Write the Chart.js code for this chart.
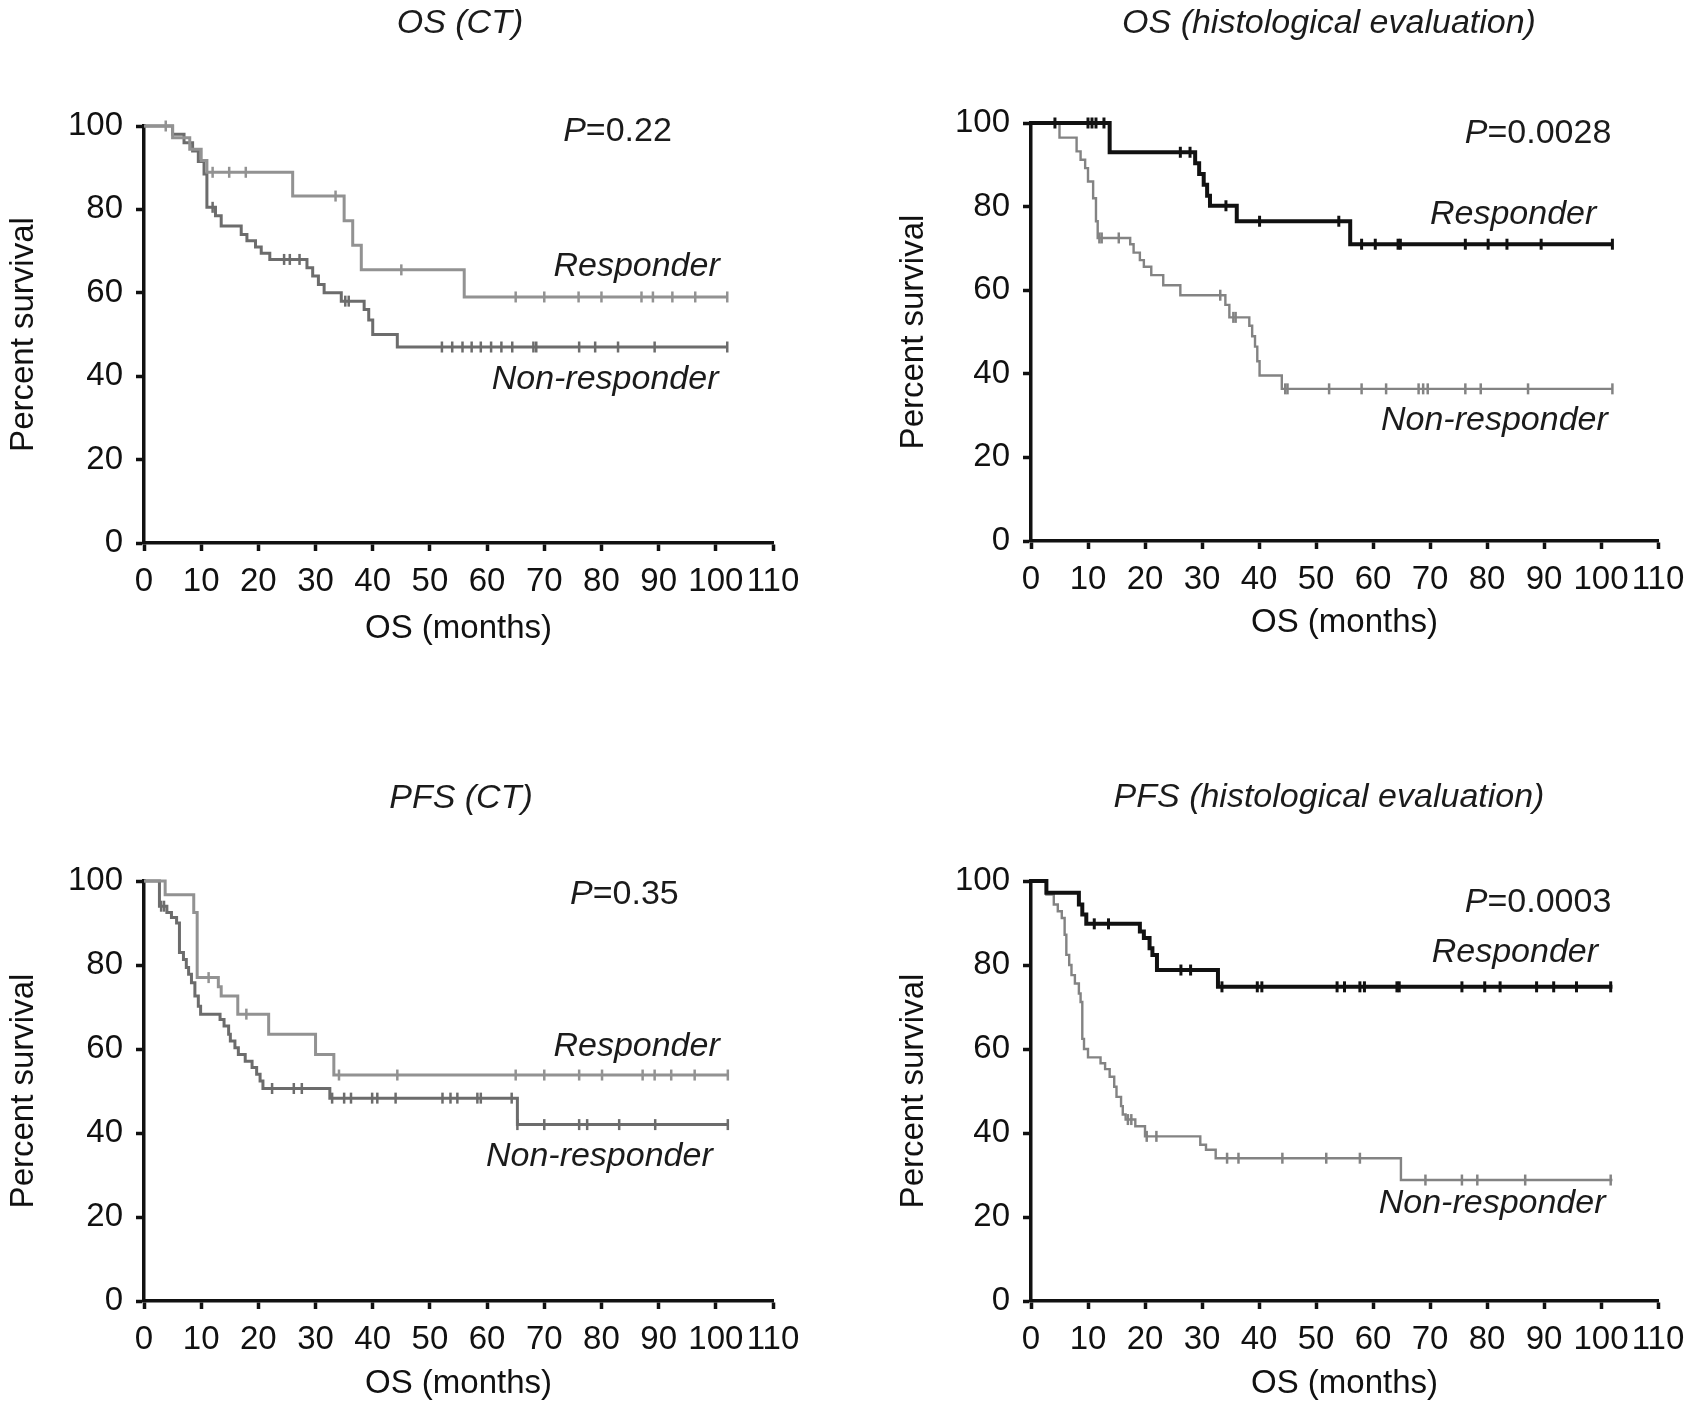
<!DOCTYPE html>
<html>
<head>
<meta charset="utf-8">
<script src="https://cdn.jsdelivr.net/npm/chart.js@4"></script>
<style>
  html, body { margin: 0; padding: 0; background: #fff; }
  body { width: 1696px; height: 1413px; position: relative; overflow: hidden; }
  canvas { position: absolute; }
</style>
</head>
<body>
<canvas id="c1" width="848" height="706" style="left:0;top:0"></canvas>
<canvas id="c2" width="809" height="706" style="left:887px;top:0"></canvas>
<canvas id="c3" width="848" height="707" style="left:0;top:706px"></canvas>
<canvas id="c4" width="809" height="707" style="left:887px;top:706px"></canvas>
<script>
// ---------- shared tick labels ----------
const xTickValues = [0, 10, 20, 30, 40, 50, 60, 70, 80, 90, 100, 110];
const yTickValues = [0, 20, 40, 60, 80, 100];

// ---------- Panel 1: OS (CT) ----------
const osCtRespTimes = [0, 5, 8, 10, 11, 26, 35, 36.5, 38, 56, 102];
const osCtRespSurv  = [100, 97.2, 94.4, 91.7, 88.9, 83.2, 77.3, 71.4, 65.5, 59, 59];
const osCtRespCensT = [3.8, 12, 14.9, 17.8, 33.5, 45, 65, 70, 76, 80, 87, 89, 92.4, 96.4, 102];
const osCtRespCensS = [100, 88.9, 88.9, 88.9, 83.2, 65.5, 59, 59, 59, 59, 59, 59, 59, 59, 59];
const osCtNonTimes = [0, 5, 7, 8.5, 9.5, 10.5, 11, 12.5, 13.5, 17, 18, 19.5, 20.5, 22, 28.5, 29.5, 30.5, 31.5, 34.5, 38.5, 39.3, 40, 44.3, 102];
const osCtNonSurv  = [100, 98, 96, 94, 91.5, 88.5, 80.5, 78.5, 76, 74, 72.5, 71, 69.5, 68, 66, 64, 62, 60, 58, 56, 53.5, 50, 47, 47];
const osCtNonCensT = [12, 24.5, 25.5, 27.2, 35.2, 35.8, 52.1, 53.9, 55.7, 57.3, 58.9, 60.7, 62.5, 64.4, 68.1, 68.6, 76.1, 78.9, 82.9, 89.3, 102];
const osCtNonCensS = [80.5, 68, 68, 68, 58, 58, 47, 47, 47, 47, 47, 47, 47, 47, 47, 47, 47, 47, 47, 47, 47];

// ---------- Panel 2: OS (histological evaluation) ----------
const osHiRespTimes = [0, 13.8, 28.8, 29.5, 30.3, 30.9, 31.4, 36.1, 56, 102];
const osHiRespSurv  = [100, 93, 90.4, 87.8, 85.2, 82.6, 80.2, 76.5, 71, 71];
const osHiRespCensT = [4.2, 10, 10.7, 11.4, 12.8, 26.2, 27.9, 34.2, 40.1, 54, 58, 60.4, 64.4, 64.8, 76.2, 80.2, 83.5, 89.5, 102];
const osHiRespCensS = [100, 100, 100, 100, 100, 93, 93, 80.2, 76.5, 76.5, 71, 71, 71, 71, 71, 71, 71, 71, 71];
const osHiNonTimes = [0, 5, 8, 8.7, 9.5, 10, 10.9, 11.4, 11.7, 17.4, 18, 19.1, 19.8, 21.1, 23.2, 26.2, 34.1, 34.8, 38.3, 38.8, 39.3, 39.7, 40.1, 44, 102];
const osHiNonSurv  = [100, 96.5, 93.2, 91.2, 89.2, 86, 82, 76.5, 72.5, 71, 69, 67.2, 65.6, 63.6, 61.2, 58.8, 56.5, 53.5, 51.5, 49, 46.5, 43, 39.6, 36.4, 36.4];
const osHiNonCensT = [12, 12.4, 15.4, 33.2, 35.5, 35.9, 44.6, 45, 52.3, 58, 62.3, 68, 68.8, 69.6, 76.2, 78.9, 87.2, 102];
const osHiNonCensS = [72.5, 72.5, 72.5, 58.8, 53.5, 53.5, 36.4, 36.4, 36.4, 36.4, 36.4, 36.4, 36.4, 36.4, 36.4, 36.4, 36.4, 36.4];

// ---------- Panel 3: PFS (CT) ----------
const pfsCtRespTimes = [0, 3.7, 8.7, 9.3, 13, 13.5, 16.4, 21.8, 30, 33.2, 102];
const pfsCtRespSurv  = [100, 96.7, 92.5, 77, 74.8, 72.6, 68.3, 63.5, 58.7, 53.8, 53.8];
const pfsCtRespCensT = [11.3, 17.9, 34.1, 44.3, 65, 70, 76.1, 80.1, 87.2, 89.3, 92.2, 96.3, 102.1];
const pfsCtRespCensS = [77, 68.3, 53.8, 53.8, 53.8, 53.8, 53.8, 53.8, 53.8, 53.8, 53.8, 53.8, 53.8];
const pfsCtNonTimes = [0, 2.7, 4, 4.8, 5.7, 6.2, 6.9, 7.4, 7.8, 8.3, 8.9, 9.5, 9.9, 13.3, 14, 14.8, 15.1, 15.9, 16.5, 17.7, 18.9, 19.7, 20.3, 20.8, 32.5, 65.3, 102];
const pfsCtNonSurv  = [100, 94, 92.5, 91.3, 90, 83, 81.3, 79.4, 77.8, 75.8, 72.6, 70.2, 68.3, 67, 65.5, 63.5, 61.9, 60.3, 58.7, 57.1, 55.6, 54, 52.4, 50.6, 48.3, 42, 42];
const pfsCtNonCensT = [3, 3.5, 22.4, 26.2, 27.6, 32.9, 35, 36.2, 39.9, 40.8, 44, 52.2, 53.6, 54.8, 58.3, 58.9, 64.3, 65.3, 70, 76.1, 77.5, 83.1, 89.4, 102.1];
const pfsCtNonCensS = [94, 94, 50.6, 50.6, 50.6, 48.3, 48.3, 48.3, 48.3, 48.3, 48.3, 48.3, 48.3, 48.3, 48.3, 48.3, 48.3, 42, 42, 42, 42, 42, 42, 42];

// ---------- Panel 4: PFS (histological evaluation) ----------
const pfsHiRespTimes = [0, 2.7, 8.4, 9, 9.7, 19.1, 19.8, 20.8, 21.3, 22.1, 32.8, 102];
const pfsHiRespSurv  = [100, 97.2, 94.4, 92, 89.8, 88, 86.4, 84, 82.4, 78.8, 74.8, 74.8];
const pfsHiRespCensT = [11.1, 13.6, 26.3, 28, 33.5, 39.7, 40.5, 53.7, 55, 57.7, 58.5, 64.2, 64.6, 75.6, 79.6, 82.3, 88.7, 91.7, 95.7, 101.7];
const pfsHiRespCensS = [89.8, 89.8, 78.8, 78.8, 74.8, 74.8, 74.8, 74.8, 74.8, 74.8, 74.8, 74.8, 74.8, 74.8, 74.8, 74.8, 74.8, 74.8, 74.8, 74.8];
const pfsHiNonTimes = [0, 2.7, 4, 4.7, 5.4, 5.9, 6.2, 6.7, 7.1, 7.7, 8.4, 8.7, 9, 9.3, 10, 12.2, 13, 13.8, 14.6, 15, 15.8, 16.1, 16.6, 18.3, 20, 29.7, 30.7, 32.4, 64.9, 102];
const pfsHiNonSurv  = [100, 96.8, 94.4, 92.8, 91.2, 87.2, 82.4, 80, 77.6, 75.6, 73.2, 71.2, 62.4, 60, 58, 56.6, 55.2, 53.4, 51, 48.6, 46.4, 44.4, 43.2, 41.6, 39.2, 37.2, 36, 34, 28.8, 28.8];
const pfsHiNonCensT = [17, 17.6, 20.3, 22, 34.4, 36.4, 44.1, 51.8, 57.7, 69.2, 75.6, 78.3, 86.7, 101.7];
const pfsHiNonCensS = [43.2, 43.2, 39.2, 39.2, 34, 34, 34, 34, 34, 28.8, 28.8, 28.8, 28.8, 28.8];

// ---------- texts ----------
const panelTitles = ['OS (CT)', 'OS (histological evaluation)', 'PFS (CT)', 'PFS (histological evaluation)'];
const pValues = ['=0.22', '=0.0028', '=0.35', '=0.0003'];
const groupNames = ['Responder', 'Non-responder'];
const xAxisTitle = 'OS (months)';
const yAxisTitle = 'Percent survival';

// ---------- helpers ----------
const FONT = '"Liberation Sans", Arial, Helvetica, sans-serif';
function pts(t, s) { return t.map((v, i) => ({ x: v, y: s[i] })); }

const annotPlugin = {
  id: 'annot',
  afterDraw(chart, args, o) {
    const { ctx, scales: { x, y } } = chart;
    ctx.save();
    ctx.fillStyle = '#1b1b1b';
    ctx.textBaseline = 'middle';
    ctx.font = 'italic 34px ' + FONT;
    ctx.textAlign = 'center';
    ctx.fillText(o.title, o.titleX, o.titleY);
    ctx.textAlign = 'left';
    const px = x.getPixelForValue(o.pPos[0]), py = y.getPixelForValue(o.pPos[1]);
    ctx.font = 'italic 34px ' + FONT;
    ctx.fillText('P', px, py);
    const w = ctx.measureText('P').width;
    ctx.font = '34px ' + FONT;
    ctx.fillText(o.p, px + w, py);
    ctx.font = 'italic 34px ' + FONT;
    ctx.fillText(groupNames[0], x.getPixelForValue(o.rPos[0]), y.getPixelForValue(o.rPos[1]));
    ctx.fillText(groupNames[1], x.getPixelForValue(o.nPos[0]), y.getPixelForValue(o.nPos[1]));
    ctx.restore();
  }
};

function makeChart(id, cfg) {
  const canvas = document.getElementById(id);
  const W = canvas.width, H = canvas.height;
  const axisColor = '#111';
  return new Chart(canvas, {
    type: 'scatter',
    data: {
      datasets: [
        { data: pts(cfg.nT, cfg.nS), showLine: true, stepped: true, borderColor: cfg.nColor, borderWidth: cfg.nWidth, pointRadius: 0, clip: 8, order: 2 },
        { data: pts(cfg.nCT, cfg.nCS), showLine: false, pointStyle: 'line', rotation: 90, pointRadius: 5.5, borderColor: cfg.nColor, borderWidth: 2.5, clip: 8, order: 2 },
        { data: pts(cfg.rT, cfg.rS), showLine: true, stepped: true, borderColor: cfg.rColor, borderWidth: cfg.rWidth, pointRadius: 0, clip: 8, order: 1 },
        { data: pts(cfg.rCT, cfg.rCS), showLine: false, pointStyle: 'line', rotation: 90, pointRadius: 5.5, borderColor: cfg.rColor, borderWidth: cfg.rWidth > 3.5 ? 3 : 2.5, clip: 8, order: 1 }
      ]
    },
    options: {
      responsive: false,
      devicePixelRatio: 1,
      animation: false,
      layout: { padding: { top: cfg.area.t, left: 0, right: W - cfg.area.r, bottom: 0 } },
      plugins: {
        legend: { display: false },
        tooltip: { enabled: false },
        annot: cfg.annot
      },
      scales: {
        x: {
          type: 'linear', min: 0, max: 110,
          afterFit: s => { s.height = H - cfg.area.b; },
          afterBuildTicks: s => { s.ticks = xTickValues.map(v => ({ value: v })); },
          ticks: { color: '#111', font: { family: FONT, size: 33 }, padding: 11, maxRotation: 0, autoSkip: false },
          grid: { drawOnChartArea: false, drawTicks: true, tickLength: 8, tickWidth: 3.5, tickColor: axisColor, color: axisColor },
          border: { display: true, color: axisColor, width: 3.5 },
          title: { display: true, text: xAxisTitle, color: '#111', font: { family: FONT, size: 33 }, padding: { top: 0, bottom: cfg.xTitlePad } }
        },
        y: {
          type: 'linear', min: 0, max: 100,
          afterFit: s => { s.width = cfg.area.l; },
          afterBuildTicks: s => { s.ticks = yTickValues.map(v => ({ value: v })); },
          ticks: { color: '#111', font: { family: FONT, size: 33 }, padding: 13 },
          grid: { drawOnChartArea: false, drawTicks: true, tickLength: 8, tickWidth: 3.5, tickColor: axisColor, color: axisColor },
          border: { display: true, color: axisColor, width: 3.5 },
          title: { display: true, text: yAxisTitle, color: '#111', font: { family: FONT, size: 33 }, padding: { top: cfg.yTitlePad, bottom: 0 } }
        }
      }
    },
    plugins: [annotPlugin]
  });
}

const ctR = '#929292', ctN = '#6c6c6c', hiR = '#111111', hiN = '#838383';

makeChart('c1', {
  area: { l: 144, t: 126, r: 773, b: 543 }, xTitlePad: 57, yTitlePad: 4,
  rT: osCtRespTimes, rS: osCtRespSurv, rCT: osCtRespCensT, rCS: osCtRespCensS,
  nT: osCtNonTimes, nS: osCtNonSurv, nCT: osCtNonCensT, nCS: osCtNonCensS,
  rColor: ctR, nColor: ctN, rWidth: 3, nWidth: 3,
  annot: { title: panelTitles[0], titleX: 460, titleY: 24, p: pValues[0], pPos: [73.3, 98.6], rPos: [71.6, 66.4], nPos: [60.8, 39.3] }
});
makeChart('c2', {
  area: { l: 144, t: 123, r: 771, b: 541 }, xTitlePad: 63, yTitlePad: 7,
  rT: osHiRespTimes, rS: osHiRespSurv, rCT: osHiRespCensT, rCS: osHiRespCensS,
  nT: osHiNonTimes, nS: osHiNonSurv, nCT: osHiNonCensT, nCS: osHiNonCensS,
  rColor: hiR, nColor: hiN, rWidth: 4, nWidth: 2.4,
  annot: { title: panelTitles[1], titleX: 442, titleY: 24, p: pValues[1], pPos: [76.1, 97.4], rPos: [70.0, 78.2], nPos: [61.4, 28.7] }
});
makeChart('c3', {
  area: { l: 144, t: 175, r: 773, b: 595 }, xTitlePad: 9, yTitlePad: 4,
  rT: pfsCtRespTimes, rS: pfsCtRespSurv, rCT: pfsCtRespCensT, rCS: pfsCtRespCensS,
  nT: pfsCtNonTimes, nS: pfsCtNonSurv, nCT: pfsCtNonCensT, nCS: pfsCtNonCensS,
  rColor: ctR, nColor: ctN, rWidth: 3, nWidth: 3,
  annot: { title: panelTitles[2], titleX: 461, titleY: 93, p: pValues[2], pPos: [74.5, 96.7], rPos: [71.6, 60.5], nPos: [59.8, 34.5] }
});
makeChart('c4', {
  area: { l: 144, t: 175, r: 771, b: 595 }, xTitlePad: 9, yTitlePad: 7,
  rT: pfsHiRespTimes, rS: pfsHiRespSurv, rCT: pfsHiRespCensT, rCS: pfsHiRespCensS,
  nT: pfsHiNonTimes, nS: pfsHiNonSurv, nCT: pfsHiNonCensT, nCS: pfsHiNonCensS,
  rColor: hiR, nColor: hiN, rWidth: 4, nWidth: 2.4,
  annot: { title: panelTitles[3], titleX: 442, titleY: 92, p: pValues[3], pPos: [76.1, 94.8], rPos: [70.3, 82.9], nPos: [61.0, 23.3] }
});
</script>
</body>
</html>
